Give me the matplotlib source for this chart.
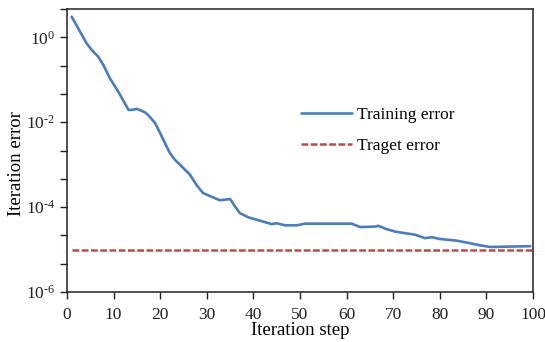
import matplotlib
matplotlib.use("Agg")
import matplotlib.pyplot as plt
import numpy as np
from matplotlib.ticker import FixedLocator, FuncFormatter

plt.rcParams['font.family'] = ['Liberation Serif', 'DejaVu Serif']
plt.rcParams['mathtext.fontset'] = 'custom'
plt.rcParams['mathtext.rm'] = 'Liberation Serif'
plt.rcParams['mathtext.it'] = 'Liberation Serif:italic'

steps = [1.0, 2.4, 4.2, 5.3, 6.7, 7.8, 9.2, 11.0, 12.4, 13.2, 13.9, 15.0, 16.7, 17.4,
         18.9, 20.0, 21.0, 22.1, 23.2, 24.6, 26.4, 27.8, 29.2, 31.1, 32.8, 35.0, 36.1,
         37.1, 38.9, 41.4, 43.9, 45.0, 46.8, 49.3, 51.1, 61.1, 62.9, 66.1, 66.8, 68.6,
         70.5, 74.7, 76.8, 78.3, 80.0, 83.6, 86.5, 88.6, 90.8, 99.4]
training_error = [3.05, 1.63, 0.723, 0.502, 0.350, 0.223, 0.108, 0.0525, 0.0280,
                  0.0195, 0.0195, 0.0206, 0.0172, 0.0148, 0.00955, 0.00550, 0.00324,
                  0.00186, 0.00129, 9.12e-4, 5.75e-4, 3.31e-4, 2.14e-4, 1.74e-4,
                  1.45e-4, 1.55e-4, 1.02e-4, 7.24e-5, 5.75e-5, 4.79e-5, 3.98e-5,
                  4.17e-5, 3.72e-5, 3.72e-5, 4.07e-5, 4.07e-5, 3.39e-5, 3.47e-5,
                  3.63e-5, 3.02e-5, 2.63e-5, 2.24e-5, 1.86e-5, 1.95e-5, 1.78e-5,
                  1.62e-5, 1.41e-5, 1.26e-5, 1.15e-5, 1.20e-5]
target_steps = [1, 100]
target_error = [1e-5, 1e-5]

fig = plt.figure(figsize=(5.45, 3.42), dpi=100)
ax = fig.add_axes([67/545, 1-292/342, (533-67)/545, (292-9)/342])

ax.plot(steps, training_error, color='#4a7ebb', lw=1.9, label='Training error',
        solid_joinstyle='round', solid_capstyle='round')
ax.plot(target_steps, target_error, color='#be4b48', lw=1.8, ls=(0, (2.7, 1.0)),
        label='Traget error')

ax.set_yscale('log')
ax.set_ylim(1e-6, 10**(2/3))
ax.set_xlim(0, 100)
yt = [10**(k*2/3) for k in range(-9, 2)]
ax.yaxis.set_major_locator(FixedLocator(yt))
ax.yaxis.set_minor_locator(FixedLocator([]))

def yfmt(v, pos):
    e = np.log10(v)
    if abs(e - round(e)) < 1e-6 and int(round(e)) % 2 == 0:
        n = int(round(e))
        if n < 0:
            return r'$10^{\text{-}%d}$' % (-n)
        return r'$10^{%d}$' % n
    return ''
ax.yaxis.set_major_formatter(FuncFormatter(yfmt))
ax.set_xticks(range(0, 101, 10))

ax.tick_params(direction='out', length=5, width=1, labelsize=12.5, colors='#222222')
ax.tick_params(axis='x', pad=6)
for s in ax.spines.values():
    s.set_color('#222222')
    s.set_linewidth(1.1)

ax.set_xlabel('Iteration step', fontsize=13.5, labelpad=-1)
ax.set_ylabel('Iteration error', fontsize=13.5)
ax.yaxis.set_label_coords(-0.09, 0.455)

ax.legend(loc='upper left', bbox_to_anchor=(0.469, 0.71), frameon=False,
          fontsize=12.5, handlelength=2.9, handletextpad=0.3, labelspacing=0.85)

fig.savefig('out.png', dpi=100)
